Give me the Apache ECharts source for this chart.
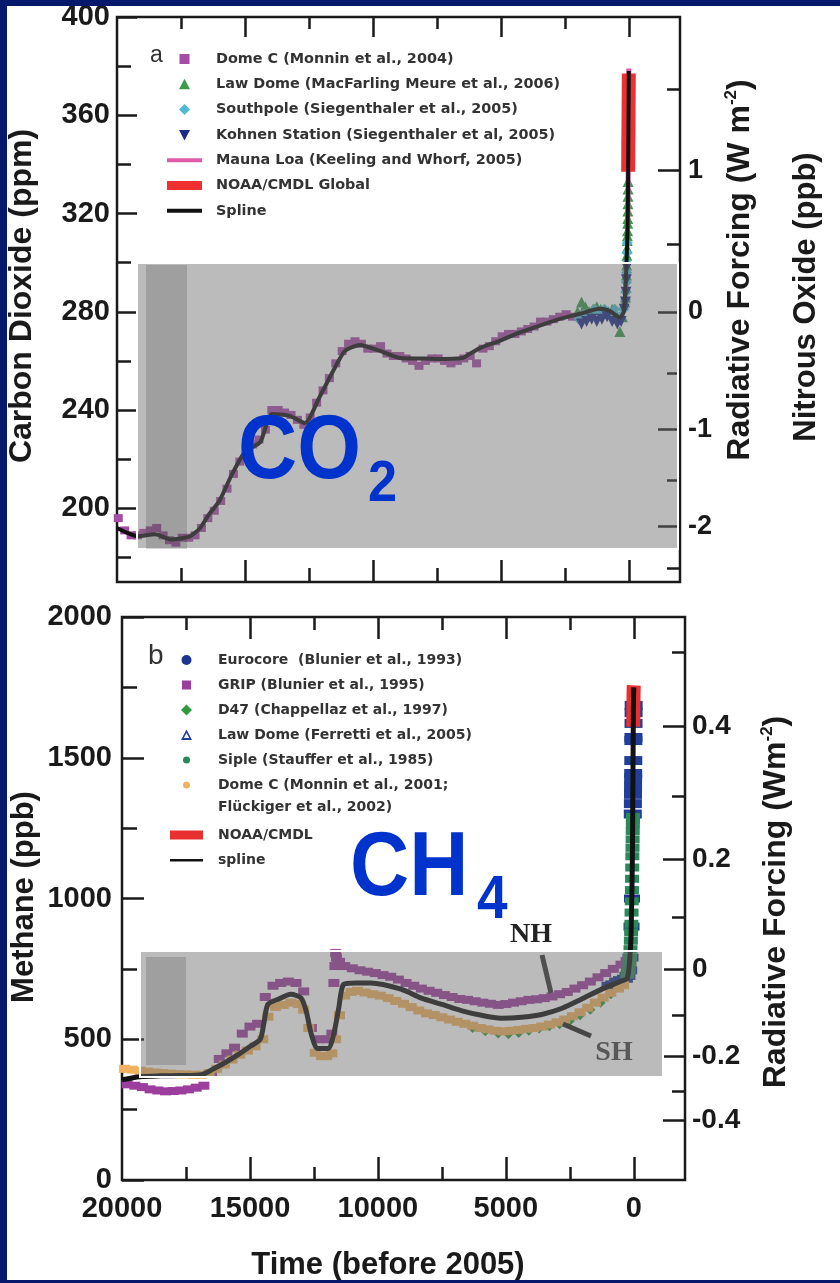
<!DOCTYPE html>
<html>
<head>
<meta charset="utf-8">
<script src="https://cdn.jsdelivr.net/npm/echarts@6.0.0/dist/echarts.min.js"></script>
<style>
  html, body { margin: 0; padding: 0; background: #fff; }
  #chart { width: 840px; height: 1283px; }
</style>
</head>
<body>
<div id="chart"></div>
<script>
// ---------- panel a : CO2 (years before 2005, ppm) ----------
var co2SplineYears = [20000, 19600, 19200, 18500, 17900, 17150, 16750, 16400, 16000, 15500, 15000, 14400, 13950, 13250, 12650, 12100, 11550, 11100, 10500, 9700, 8950, 8150, 7500, 6500, 6200, 5800, 5050, 4250, 3500, 2700, 1900, 1150, 750, 350, 200, 105, 55, 45, 35, 25, 15, 5, 0];
var co2Spline = [192, 190, 188.6, 189.4, 187.3, 188.6, 192, 197.6, 203, 214, 223, 227, 238.4, 237.6, 234.7, 245, 256, 264, 266.5, 264, 261.2, 261, 260.8, 261.2, 263, 265.3, 268.2, 271.6, 274.3, 277.1, 279.2, 281.2, 280.4, 277.6, 280, 296, 311, 317, 325, 339, 354, 369, 378];

var domeCYears = [19950, 19700, 19450, 19200, 18950, 18700, 18450, 18200, 17950, 17700, 17450, 17200, 16950, 16700, 16450, 16200, 15950, 15700, 15450, 15200, 14950, 14700, 14450, 14200, 13950, 13700, 13450, 13200, 12950, 12700, 12450, 12200, 11950, 11700, 11450, 11200, 10950, 10700, 10450, 10200, 9950, 9700, 9450, 9200, 8950, 8700, 8450, 8200, 7950, 7700, 7450, 7200, 6950, 6700, 6450, 6200, 5950, 5700, 5450, 5200, 4950, 4700, 4450, 4200, 3950, 3700, 3450, 3200, 2950, 2700, 2450, 2200, 1950, 1700];
var domeCCO2 = [196, 191, 189, 189, 190, 191, 192, 189, 187, 186, 188, 188, 189, 192, 196, 199, 203, 208, 214, 219, 223, 226, 228, 232, 240, 240, 239, 238, 236, 234, 237, 243, 248, 253, 259, 264, 267, 268, 267, 265, 265, 266, 263, 262, 262, 261, 260, 258, 260, 261, 261, 260, 259, 260, 261, 262, 259, 265, 266, 268, 270, 271, 271, 272, 273, 274, 276, 276, 277, 278, 279, 278, 278, 280];

var lawDomeYears = [2000, 1850, 1700, 1550, 1400, 1250, 1100, 950, 800, 650, 500, 350, 250, 160, 130, 110, 95, 85, 75, 68, 62, 56, 50, 45, 41, 37, 34, 31, 29, 27];
var lawDomeCO2 = [280, 284, 282, 280, 281, 282, 281, 280, 280, 281, 279, 272, 278, 284, 286, 290, 295, 299, 303, 306, 309, 311, 313, 316, 318, 321, 324, 327, 330, 333];

var southpoleYears = [1950, 1750, 1550, 1350, 1150, 950, 750, 550, 350, 200, 130, 110, 95, 85, 75, 67, 60];
var southpoleCO2 = [277, 279, 278, 281, 280, 281, 279, 281, 278, 281, 285, 288, 292, 296, 300, 304, 308];

var kohnenYears = [1850, 1650, 1450, 1250, 1050, 850, 650, 450, 300, 180, 130, 110, 95, 80];
var kohnenCO2 = [275, 276, 277, 276, 277, 278, 276, 275, 276, 281, 284, 288, 293, 298];

var maunaLoaYears = [47, 40, 35, 30, 25, 20, 15, 10, 5, 0];
var maunaLoaCO2 = [315, 321, 325, 331, 339, 346, 354, 361, 370, 379];

var noaaCO2Years = [26, 20, 15, 10, 5, 0];
var noaaCO2 = [337, 346, 354, 361, 369, 377];

// ---------- panel b : CH4 (years before 2005, ppb) ----------
var ch4SplineYears = [20000, 19300, 18500, 17700, 16900, 16400, 15900, 15400, 15000, 14600, 14450, 14300, 13900, 13400, 13000, 12800, 12600, 12350, 11950, 11730, 11530, 11340, 10870, 10280, 9100, 8300, 7500, 6750, 5950, 5200, 4400, 3600, 2800, 2050, 1250, 500, 255, 155, 105, 55, 25, 10, 0];
var ch4Spline = [356, 367, 370, 371, 374, 396, 421, 449, 474, 500, 560, 624, 642, 660, 646, 599, 517, 467, 467, 517, 611, 695, 700, 700, 678, 646, 624, 602, 585, 575, 578, 588, 610, 642, 678, 706, 717, 790, 880, 1150, 1570, 1720, 1750];

var gripYears = [19800, 19500, 19200, 18900, 18600, 18300, 18000, 17700, 17400, 17100, 16800, 16500, 16200, 15900, 15600, 15300, 15000, 14700, 14400, 14100, 13800, 13500, 13200, 12900, 12600, 12300, 12000, 11800, 11720, 11680, 11650, 11620, 11580, 11500, 11300, 11000, 10700, 10400, 10100, 9800, 9500, 9200, 8900, 8600, 8300, 8000, 7700, 7400, 7100, 6800, 6500, 6200, 5900, 5600, 5300, 5000, 4700, 4400, 4100, 3800, 3500, 3200, 2900, 2600, 2300, 2000, 1700, 1400, 1100, 800, 500, 300];
var gripCH4 = [340, 335, 330, 322, 318, 315, 316, 318, 322, 328, 335, 380, 430, 450, 470, 520, 545, 555, 650, 690, 700, 705, 700, 670, 540, 500, 500, 520, 700, 760, 806, 790, 770, 775, 760, 752, 745, 740, 735, 728, 722, 712, 700, 690, 680, 672, 665, 657, 650, 643, 640, 635, 630, 626, 622, 625, 630, 635, 640, 642, 646, 652, 660, 668, 680, 692, 705, 720, 735, 750, 765, 778];

var domeCCH4Years = [19900, 19600, 19300, 19000, 18700, 18400, 18100, 17800, 17500, 17200, 16900, 16600, 16300, 16000, 15700, 15400, 15100, 14800, 14500, 14300, 14000, 13700, 13400, 13100, 12900, 12700, 12450, 12200, 12000, 11800, 11650, 11500, 11300, 11050, 10800, 10500, 10200, 9900, 9600, 9300, 9000, 8700, 8400, 8100, 7800, 7500, 7200, 6900, 6600, 6300, 6000, 5700, 5400, 5100, 4800, 4500, 4200, 3900, 3600, 3300, 3000, 2700, 2400, 2100, 1800, 1500, 1200, 900, 600, 400];
var domeCCH4 = [395, 392, 388, 385, 382, 380, 378, 376, 375, 374, 374, 380, 395, 410, 428, 445, 460, 475, 500, 580, 615, 622, 630, 625, 605, 540, 452, 440, 440, 450, 500, 585, 655, 668, 672, 666, 660, 655, 646, 636, 626, 614, 602, 592, 586, 578, 570, 562, 555, 548, 540, 535, 530, 528, 530, 533, 537, 540, 545, 552, 560, 570, 582, 596, 612, 630, 648, 665, 680, 692];

var d47Years = [6300, 5800, 5300, 4900, 4500, 4100, 3700, 3300, 2900, 2500, 2100, 1700, 1300, 900, 500];
var d47CH4 = [540, 528, 520, 518, 522, 530, 538, 546, 553, 565, 585, 605, 630, 660, 690];

var sipleYears = [250, 200, 170, 150, 130, 115, 105, 95, 88, 80, 74, 68, 62, 57, 52, 47, 42, 38, 34, 31];
var sipleCH4 = [730, 745, 770, 790, 820, 850, 880, 910, 950, 990, 1030, 1070, 1110, 1150, 1180, 1210, 1240, 1265, 1280, 1290];

var lawDomeCH4Years = [40, 36, 33, 30, 27, 24, 21, 18, 15, 12, 9, 6];
var lawDomeCH4 = [1300, 1337, 1370, 1400, 1430, 1444, 1490, 1561, 1572, 1622, 1660, 1686];

var eurocoreYears = [950, 800, 650, 500, 350, 250, 180, 130, 90, 70];
var eurocoreCH4 = [690, 695, 705, 710, 715, 725, 745, 790, 900, 1000];

var noaaCH4Years = [22, 18, 14, 10, 6, 3, 0];
var noaaCH4 = [1610, 1650, 1700, 1725, 1745, 1750, 1757];

// ---------- ticks ----------
var xMajorTicks = [0, 5000, 10000, 15000];
var xMinorTicks = [2500, 7500, 12500, 17500];
var xTickLabels = [0, 5000, 10000, 15000, 20000];
var co2Labels = [200, 240, 280, 320, 360, 400];
var co2Minor = [180, 220, 260, 300, 340, 380];
var ch4Labels = [0, 500, 1000, 1500, 2000];
var ch4Minor = [250, 750, 1250, 1750];
var co2ForcingMajor = [-2, -1, 0, 1];
var co2ForcingMinor = [-2.5, -1.5, -0.5, 0.5, 1.5];
var ch4ForcingMajor = [-0.4, -0.2, 0, 0.2, 0.4];
var ch4ForcingMinor = [-0.3, -0.1, 0.1, 0.3, 0.5];

// forcing -> concentration (simplified IPCC expressions)
function co2At(f) { return 280 * Math.exp(f / 5.35); }
function ch4At(f) { var r = Math.sqrt(749) + f / 0.03135; return r * r; }

function pts(xs, ys) { return xs.map(function (x, i) { return [x, ys[i]]; }); }

var INK = '#1a1a1a';
var FONT = '"Liberation Sans", Arial, sans-serif';
var LFONT = '"DejaVu Sans", sans-serif';

function xAx(grid, pos, ticks, len, labels) {
  return {
    type: 'value', gridIndex: grid, position: pos, min: -2000, max: 20000, inverse: true,
    axisLine: { show: false, onZero: false },
    axisTick: { show: true, inside: true, length: len, customValues: ticks, lineStyle: { color: INK, width: 2.5 } },
    axisLabel: labels ? { show: true, customValues: labels, margin: 14, fontSize: 29, fontWeight: 'bold', color: INK, fontFamily: FONT,
      formatter: function (v) { return String(v); } } : { show: false },
    splitLine: { show: false }
  };
}

function yAx(grid, pos, min, max, ticks, len, labels, fmt, margin, size) {
  return {
    type: 'value', gridIndex: grid, position: pos, min: min, max: max,
    axisLine: { show: false, onZero: false },
    axisTick: { show: true, inside: true, length: len, customValues: ticks, lineStyle: { color: INK, width: 2.5 } },
    axisLabel: labels ? { show: true, customValues: labels, margin: margin, fontSize: size, fontWeight: 'bold', color: INK, fontFamily: FONT,
      formatter: fmt } : { show: false },
    splitLine: { show: false }
  };
}

var co2ForcingPos = co2ForcingMajor.map(co2At);
var ch4ForcingPos = ch4ForcingMajor.map(ch4At);
function lookup(pos, vals) {
  return function (v) {
    for (var i = 0; i < pos.length; i++) if (Math.abs(pos[i] - v) < 1e-6) return String(vals[i]);
    return '';
  };
}

var xAxes = [
  xAx(0, 'bottom', xMajorTicks, 22, null),
  xAx(0, 'bottom', xMinorTicks, 14, null),
  xAx(0, 'top', xMajorTicks, 20, null),
  xAx(0, 'top', xMinorTicks, 12, null),
  xAx(1, 'bottom', xMajorTicks, 23, xTickLabels),
  xAx(1, 'bottom', xMinorTicks, 13, null),
  xAx(1, 'top', xMajorTicks, 22, null),
  xAx(1, 'top', xMinorTicks, 13, null)
];
var yAxes = [
  yAx(0, 'left', 170, 400, co2Labels, 20, co2Labels, function (v) { return String(v); }, 7, 29),
  yAx(0, 'left', 170, 400, co2Minor, 14, null),
  yAx(0, 'right', 170, 400, co2ForcingPos, 22, co2ForcingPos, lookup(co2ForcingPos, co2ForcingMajor), 8, 27),
  yAx(0, 'right', 170, 400, co2ForcingMinor.map(co2At), 13, null),
  yAx(1, 'left', 0, 2000, ch4Labels, 22, ch4Labels, function (v) { return String(v); }, 10, 29),
  yAx(1, 'left', 0, 2000, ch4Minor, 15, null),
  yAx(1, 'right', 0, 2000, ch4ForcingPos, 22, ch4ForcingPos, lookup(ch4ForcingPos, ch4ForcingMajor), 7, 28),
  yAx(1, 'right', 0, 2000, ch4ForcingMinor.map(ch4At), 13, null)
];

function scat(name, grid, data, symbol, size, color) {
  return { name: name, type: 'scatter', xAxisIndex: grid * 4, yAxisIndex: grid * 4, data: data,
    symbol: symbol, symbolSize: size, color: color, itemStyle: { color: color, opacity: 1 } };
}
function line(name, grid, data, width, color, smooth) {
  return { name: name, type: 'line', xAxisIndex: grid * 4, yAxisIndex: grid * 4, data: data,
    symbol: 'none', smooth: smooth || false, color: color,
    lineStyle: { color: color, width: width }, itemStyle: { color: color } };
}

var series = [
  scat('Dome C (Monnin et al., 2004)', 0, pts(domeCYears, domeCCO2), 'rect', [9, 8], '#a64ca6'),
  scat('Law Dome (MacFarling Meure et al., 2006)', 0, pts(lawDomeYears, lawDomeCO2), 'triangle', 11, '#3c9a4c'),
  scat('Southpole (Siegenthaler et al., 2005)', 0, pts(southpoleYears, southpoleCO2), 'diamond', 11, '#4cbcd4'),
  scat('Kohnen Station (Siegenthaler et al, 2005)', 0, pts(kohnenYears, kohnenCO2), 'path://M0,0H10L5,10Z', 11, '#1c2c86'),
  line('Mauna Loa (Keeling and Whorf, 2005)', 0, pts(maunaLoaYears, maunaLoaCO2), 5, '#e05aa8'),
  line('NOAA/CMDL Global', 0, pts(noaaCO2Years, noaaCO2), 14, '#ee3030'),
  line('Spline', 0, pts(co2SplineYears, co2Spline), 4, '#111', 0.2),

  scat('Eurocore  (Blunier et al., 1993)', 1, pts(eurocoreYears, eurocoreCH4), 'rect', [16, 8], '#1c3590'),
  scat('GRIP (Blunier et al., 1995)', 1, pts(gripYears, gripCH4), 'rect', [11, 8], '#9b3e9e'),
  scat('D47 (Chappellaz et al., 1997)', 1, pts(d47Years, d47CH4), 'diamond', 10, '#2f9a3f'),
  scat('Law Dome (Ferretti et al., 2005)', 1, pts(lawDomeCH4Years, lawDomeCH4), 'rect', [18, 9], '#1f3f9a'),
  scat('Siple (Stauffer et al., 1985)', 1, pts(sipleYears, sipleCH4), 'rect', [14, 8], '#2a8a5a'),
  scat('Dome C (Monnin et al., 2001;', 1, pts(domeCCH4Years, domeCCH4), 'rect', [11, 8], '#f0b25e'),
  line('NOAA/CMDL', 1, pts(noaaCH4Years, noaaCH4), 14, '#e83030'),
  line('spline', 1, pts(ch4SplineYears, ch4Spline), 5, '#111', 0.25)
];

// legend icons (padded boxes so keep-aspect scaling leaves the real size)
var ICON = {
  sq: 'path://M0,0M14,14M2,2h10v10h-10z',
  sq9: 'path://M0,0M14,14M2.5,2.5h9v9h-9z',
  tri: 'path://M0,0M14,14M7,1.5L12.5,12H1.5Z',
  dia: 'path://M0,0M14,14M7,1.5L12.5,7L7,12.5L1.5,7Z',
  inv: 'path://M0,0M14,14M1.5,2H12.5L7,12.5Z',
  circ: 'path://M0,0M14,14M2,7a5,5 0 1,0 10,0a5,5 0 1,0 -10,0z',
  dot: 'path://M0,0M14,14M3.5,7a3.5,3.5 0 1,0 7,0a3.5,3.5 0 1,0 -7,0z',
  hollow: 'path://M0,0M14,14M7,1.5L12.5,12H1.5Z M7,5L4.3,10H9.7Z',
  barThin: 'path://M0,0M35,14M0,5h35v4h-35z',
  barThick: 'path://M0,0M35,14M0,2.5h35v9h-35z',
  barB: 'path://M0,0M33,14M0,2.5h33v9h-33z',
  lineB: 'path://M0,0M33,14M0,6h33v2.5h-33z'
};
function legendText(size, padLeft) {
  return { fontFamily: LFONT, fontWeight: 'bold', fontSize: size, color: '#333', lineHeight: 14, padding: [0, 0, 0, padLeft] };
}

var legends = [
  { left: 167, top: 52, padding: 0, orient: 'vertical', itemWidth: 35, itemHeight: 14, itemGap: 11.3, selectedMode: false,
    itemStyle: { borderWidth: 0 }, textStyle: legendText(14.4, 9),
    data: [
      { name: 'Dome C (Monnin et al., 2004)', icon: ICON.sq },
      { name: 'Law Dome (MacFarling Meure et al., 2006)', icon: ICON.tri },
      { name: 'Southpole (Siegenthaler et al., 2005)', icon: ICON.dia },
      { name: 'Kohnen Station (Siegenthaler et al, 2005)', icon: ICON.inv },
      { name: 'Mauna Loa (Keeling and Whorf, 2005)', icon: ICON.barThin },
      { name: 'NOAA/CMDL Global', icon: ICON.barThick },
      { name: 'Spline', icon: ICON.barThin }
    ] },
  // only narrow icons here, so the box starts at the icons: shift by the icon inset
  { left: 179.5, top: 653, padding: 0, orient: 'vertical', itemWidth: 33, itemHeight: 14, itemGap: 11, selectedMode: false,
    itemStyle: { borderWidth: 0 }, textStyle: legendText(14, 10),
    data: [
      { name: 'Eurocore  (Blunier et al., 1993)', icon: ICON.circ },
      { name: 'GRIP (Blunier et al., 1995)', icon: ICON.sq9 },
      { name: 'D47 (Chappellaz et al., 1997)', icon: ICON.dia },
      { name: 'Law Dome (Ferretti et al., 2005)', icon: ICON.hollow },
      { name: 'Siple (Stauffer et al., 1985)', icon: ICON.dot },
      { name: 'Dome C (Monnin et al., 2001;', icon: ICON.dot }
    ] },
  { left: 170, top: 828, padding: 0, orient: 'vertical', itemWidth: 33, itemHeight: 14, itemGap: 11, selectedMode: false,
    itemStyle: { borderWidth: 0 }, textStyle: legendText(14, 10),
    data: [
      { name: 'NOAA/CMDL', icon: ICON.barB },
      { name: 'spline', icon: ICON.lineB }
    ] }
];

function txt(x, y, text, font, fill, opts) {
  var o = { type: 'text', x: x, y: y, z: 60, silent: true,
    style: { text: text, font: font, fill: fill, textAlign: 'center', textVerticalAlign: 'middle' } };
  if (opts) Object.keys(opts).forEach(function (k) {
    if (k === 'style') Object.assign(o.style, opts.style); else o[k] = opts[k];
  });
  return o;
}
function forcingTitle(x, y, text) {
  var a = { fontSize: 32, fontWeight: 'bold', fontFamily: FONT, lineHeight: 34, color: INK };
  var s = { fontSize: 17, fontWeight: 'bold', fontFamily: FONT, lineHeight: 34, color: INK, verticalAlign: 'top' };
  return { type: 'text', x: x, y: y, rotation: Math.PI / 2, z: 60, silent: true,
    style: { text: '{a|' + text + '}{s|-2}{a|)}', textAlign: 'center', textVerticalAlign: 'middle', fill: INK, rich: { a: a, s: s } } };
}
var veil = 'rgba(110,110,110,0.47)';
var navy = '#05186b';
var blue = '#0033cc';

var graphics = [
  // axis titles
  txt(22, 296, 'Carbon Dioxide (ppm)', 'bold 32px ' + FONT, INK, { rotation: Math.PI / 2 }),
  txt(24, 897, 'Methane (ppb)', 'bold 31px ' + FONT, INK, { rotation: Math.PI / 2 }),
  txt(388, 1265, 'Time (before 2005)', 'bold 31px ' + FONT, INK),
  txt(806, 297, 'Nitrous Oxide (ppb)', 'bold 31px ' + FONT, INK, { rotation: Math.PI / 2 }),
  forcingTitle(740, 270, 'Radiative Forcing (W m'),
  forcingTitle(776, 902, 'Radiative Forcing (Wm'),
  // panel letters and wrapped legend line
  txt(150, 56, 'a', '23px ' + FONT, '#333', { style: { textAlign: 'left' } }),
  txt(148, 656, 'b', '28px ' + FONT, '#333', { style: { textAlign: 'left' } }),
  txt(218, 807, 'Flückiger et al., 2002)', 'bold 14px ' + LFONT, '#333', { style: { textAlign: 'left' } }),
  // NH / SH pointers
  txt(531, 935, 'NH', 'bold 28px "Liberation Serif", serif', '#222'),
  txt(614, 1053, 'SH', 'bold 28px "Liberation Serif", serif', '#444'),
  { type: 'line', z: 60, silent: true, shape: { x1: 542, y1: 955, x2: 551, y2: 993 }, style: { stroke: '#333', lineWidth: 5 } },
  { type: 'line', z: 60, silent: true, shape: { x1: 563, y1: 1024, x2: 591, y2: 1036 }, style: { stroke: '#222', lineWidth: 5 } },
  // grey veils laid over the plots
  { type: 'rect', z: 100, silent: true, shape: { x: 137, y: 263, width: 541, height: 286 }, style: { fill: veil, stroke: '#fff', lineWidth: 2 } },
  { type: 'rect', z: 101, silent: true, shape: { x: 146, y: 265, width: 41, height: 284 }, style: { fill: 'rgba(60,60,60,0.22)' } },
  { type: 'rect', z: 100, silent: true, shape: { x: 140, y: 951, width: 523, height: 126 }, style: { fill: veil, stroke: '#fff', lineWidth: 2 } },
  { type: 'rect', z: 101, silent: true, shape: { x: 146, y: 957, width: 40, height: 108 }, style: { fill: 'rgba(60,60,60,0.22)' } },
  // big formula labels
  txt(238, 453, 'CO', 'bold 91px ' + FONT, blue, { z: 110, scaleX: 0.9, style: { textAlign: 'left' } }),
  txt(368, 485, '2', 'bold 58px ' + FONT, blue, { z: 110, scaleX: 0.9, style: { textAlign: 'left' } }),
  txt(350, 870, 'CH', 'bold 91px ' + FONT, blue, { z: 110, scaleX: 0.9, style: { textAlign: 'left' } }),
  txt(477, 901, '4', 'bold 61px ' + FONT, blue, { z: 110, scaleX: 0.9, style: { textAlign: 'left' } }),
  // slide frame
  { type: 'rect', z: 200, silent: true, shape: { x: 0, y: 0, width: 840, height: 6 }, style: { fill: navy } },
  { type: 'rect', z: 200, silent: true, shape: { x: 0, y: 0, width: 7, height: 1283 }, style: { fill: navy } },
  { type: 'rect', z: 200, silent: true, shape: { x: 0, y: 1280, width: 840, height: 3 }, style: { fill: navy } }
];

var chart = echarts.init(document.getElementById('chart'), null, { renderer: 'canvas' });
chart.setOption({
  animation: false,
  backgroundColor: '#fff',
  textStyle: { fontFamily: FONT },
  grid: [
    { left: 117, top: 17, width: 563, height: 565, show: true, borderColor: INK, borderWidth: 2.5, backgroundColor: 'transparent', outerBoundsMode: 'none', containLabel: false },
    { left: 122, top: 617, width: 563, height: 563, show: true, borderColor: INK, borderWidth: 2.5, backgroundColor: 'transparent', outerBoundsMode: 'none', containLabel: false }
  ],
  legend: legends,
  xAxis: xAxes,
  yAxis: yAxes,
  series: series,
  graphic: { elements: graphics }
});
</script>
</body>
</html>
